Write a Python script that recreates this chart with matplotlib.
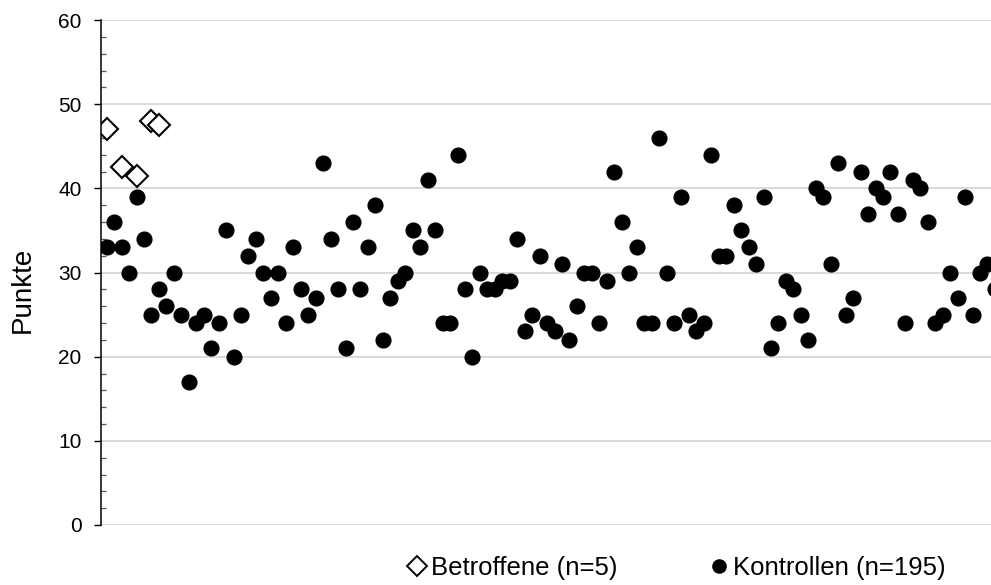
import numpy as np
import matplotlib.pyplot as plt
from matplotlib.lines import Line2D
from matplotlib.ticker import MultipleLocator

plt.rcParams['font.family'] = ['Liberation Sans', 'DejaVu Sans']

# Betroffene (affected), x position = subject index
betroffene_x = [1, 3, 5, 7, 8]
betroffene_y = [47, 42.5, 41.5, 48, 47.5]

# Kontrollen, only the part visible in the chart (index 1..120)
kontrollen_y = [
    33, 36, 33, 30, 39, 34, 25, 28, 26, 30,
    25, 17, 24, 25, 21, 24, 35, 20, 25, 32,
    34, 30, 27, 30, 24, 33, 28, 25, 27, 43,
    34, 28, 21, 36, 28, 33, 38, 22, 27, 29,
    30, 35, 33, 41, 35, 24, 24, 44, 28, 20,
    30, 28, 28, 29, 29, 34, 23, 25, 32, 24,
    23, 31, 22, 26, 30, 30, 24, 29, 42, 36,
    30, 33, 24, 24, 46, 30, 24, 39, 25, 23,
    24, 44, 32, 32, 38, 35, 33, 31, 39, 21,
    24, 29, 28, 25, 22, 40, 39, 31, 43, 25,
    27, 42, 37, 40, 39, 42, 37, 24, 41, 40,
    36, 24, 25, 30, 27, 39, 25, 30, 31, 28,
]
kontrollen_x = np.arange(1, len(kontrollen_y) + 1)

fig = plt.figure(figsize=(9.91, 5.85), dpi=100)
ax = fig.add_axes([101 / 991, 1 - 525 / 585, 1 - 101 / 991, 505 / 585])

ax.plot(kontrollen_x, kontrollen_y, 'o', color='black', markersize=10.6, zorder=3)
ax.plot(betroffene_x, betroffene_y, 'D', markerfacecolor='white', markeredgecolor='black',
        markeredgewidth=1.5, markersize=11.5, zorder=4)

ax.set_xlim(0.24, 119.47)
ax.set_ylim(0, 60)
ax.yaxis.set_major_locator(MultipleLocator(10))
ax.yaxis.set_minor_locator(MultipleLocator(2))
ax.set_xticks([])

ax.grid(axis='y', which='major', color='#d0d0d0', linewidth=1.1, zorder=0)
ax.set_axisbelow(True)

for s in ['top', 'right', 'bottom']:
    ax.spines[s].set_visible(False)
ax.spines['left'].set_linewidth(1.1)
ax.spines['left'].set_zorder(5)

ax.tick_params(axis='y', which='major', direction='out', length=5, width=1,
               labelsize=15, pad=9, colors='black')
ax.tick_params(axis='y', which='minor', direction='in', length=3.5, width=0.9,
               color='#555555')

fig.text(23 / 991, 1 - 290 / 585, 'Punkte', rotation=90, fontsize=20,
         ha='center', va='center')

handles = [
    Line2D([], [], linestyle='none', marker='D', markerfacecolor='white',
           markeredgecolor='black', markeredgewidth=1.4, markersize=10),
    Line2D([], [], linestyle='none', marker='o', color='black', markersize=9.5),
]
fig.legend(handles, ['Betroffene (n=5)', 'Kontrollen (n=195)'], ncol=2,
           loc='center', bbox_to_anchor=(677 / 991, 1 - 568 / 585), frameon=False,
           fontsize=18.5, handlelength=0.7, handletextpad=0.2, columnspacing=3.6,
           borderpad=0)

fig.savefig('out.png', dpi=100)
